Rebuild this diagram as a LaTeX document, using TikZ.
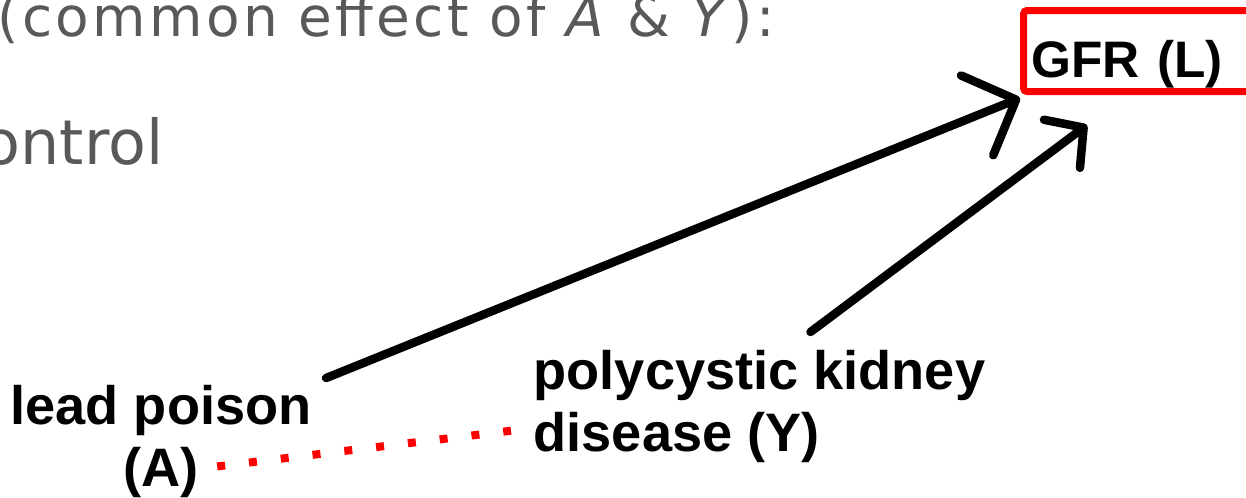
\documentclass[tikz,border=0pt]{standalone}
\usepackage{fontspec}
\setmainfont{Liberation Sans}
\newfontfamily\handfont{DejaVu Sans}
\newfontfamily\handwide[LetterSpace=6]{DejaVu Sans}
\usetikzlibrary{arrows.meta, positioning}
\definecolor{boxred}{RGB}{255,0,0}
\definecolor{slidegray}{RGB}{89,89,89}

\begin{document}
\begin{tikzpicture}[
    x=0.01cm, y=-0.01cm,
    label/.style={font=\bfseries\fontsize{15.4}{17.5}\selectfont, inner sep=0pt},
    slide/.style={text=slidegray, inner sep=0pt, anchor=base west},
    redbox/.style={draw=boxred, line width=0.07cm, rounded corners=1pt, inner xsep=0.08cm, inner ysep=0pt, text height=0.67cm, text depth=0.14cm, text width=2.6cm, align=left, font=\bfseries\fontsize{14.6}{17}\selectfont},
    line/.style={draw, line width=0.085cm, line cap=round, -{Straight Barb[length=0.42cm, width=0.86cm, round]}},
    shortline/.style={line, -{Straight Barb[length=0.27cm, width=0.6cm, round]}},
    dots/.style={draw=boxred, line width=0.08cm, dash pattern=on 0.08cm off 0.24cm}
]
\useasboundingbox (0,0) rectangle (1246,497);

% slide text, cut at the edges
\node [slide, font=\handwide\fontsize{15.6}{18}\selectfont] (effect) at (-3,36) {(common effect of \textit{A} \& \textit{Y}):};
\node [slide, font=\handfont\fontsize{17.6}{20}\selectfont] (ctrl) at (-18,164) {ontrol};

% the diagram
\node [redbox, anchor=north west] (gfr) at (1020,7) {GFR (L)};
\node [label, align=center, anchor=north] (lead) at (161,385) {lead poison\\(A)};
\node [label, align=left, anchor=north west] (pkd) at (533,350) {polycystic kidney\\disease (Y)};

\path [line] ([shift={(14,-7)}]lead.north east) -- ([shift={(0,3)}]gfr.south west);
\path [shortline] ([shift={(51,-18)}]pkd.north) -- ([shift={(67,30)}]gfr.south west);
\path [dots] ([shift={(-95,-32)}]lead.south east) -- ([shift={(-22,24)}]pkd.west);

\end{tikzpicture}
\end{document}
